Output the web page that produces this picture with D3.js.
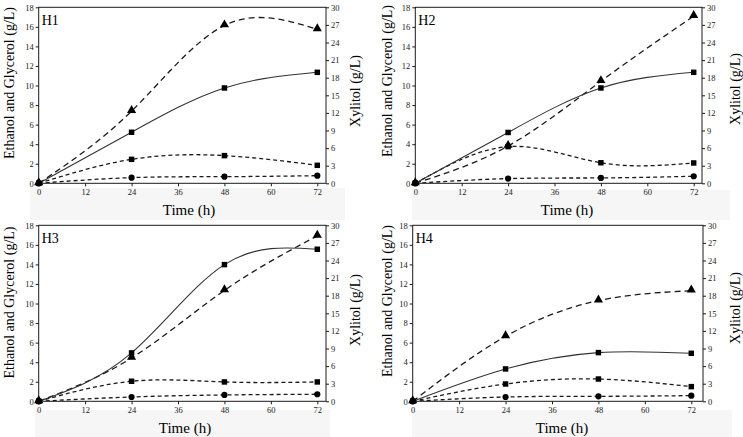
<!DOCTYPE html>
<html><head><meta charset="utf-8">
<script src="https://cdn.jsdelivr.net/npm/d3@7"></script>
</head>
<body style="margin:0"><svg id="chart" width="743" height="437" font-family="Liberation Serif"></svg>
<script>
// ---- data ----
const times = [0, 24, 48, 72];
const panelNames = ["H1", "H2", "H3", "H4"];
const xTicks = [0, 12, 24, 36, 48, 60, 72];
const leftTicks = [0, 2, 4, 6, 8, 10, 12, 14, 16, 18];
const rightTicks = [0, 3, 6, 9, 12, 15, 18, 21, 24, 27, 30];
// Ethanol (g/L, left axis, solid line, squares)
const ethanol = [
  [0, 5.22, 9.75, 11.35],
  [0, 5.2, 9.75, 11.35],
  [0, 4.95, 13.98, 15.55],
  [0, 3.31, 4.98, 4.91]
];
// Glycerol (g/L, left axis, dashed, squares)
const glycerol = [
  [0, 2.45, 2.83, 1.84],
  [0, 3.75, 2.1, 2.08],
  [0, 2.05, 1.98, 1.98],
  [0, 1.77, 2.28, 1.5]
];
// Minor product (g/L, left axis, dashed, circles)
const minor = [
  [0, 0.58, 0.68, 0.78],
  [0, 0.48, 0.55, 0.72],
  [0, 0.44, 0.65, 0.72],
  [0, 0.44, 0.51, 0.58]
];
// Xylitol (g/L, right axis, dashed, triangles)
const xylitol = [
  [0, 12.3, 26.9, 26.25],
  [0, 6.36, 17.4, 28.5],
  [0, 7.39, 18.9, 28.2],
  [0, 11.08, 17.16, 18.86]
];

// ---- layout ----
const layout = [
  {x0: 38.7, x72: 317.3, xR: 326, y0: 7.3, y1: 183.3, lt: [9, 83], rt: [355, 91], tt: [189, 215], band: [30, 188, 315, 32]},
  {x0: 415.3, x72: 693.7, xR: 702, y0: 7.3, y1: 183.3, lt: [387, 81], rt: [735, 89], tt: [567, 215], band: [412, 190, 318, 30]},
  {x0: 38.7, x72: 317.3, xR: 326, y0: 225.3, y1: 401.3, lt: [9, 302.5], rt: [355, 310], tt: [185, 433], band: [35, 410, 295, 27]},
  {x0: 412.7, x72: 691.3, xR: 703, y0: 225.3, y1: 401.3, lt: [387, 301], rt: [735, 308], tt: [562, 433], band: [412, 410, 320, 27]}
];

const FONT = "Liberation Serif";
const svg = d3.select("#chart");
const ink = "#1a1a1a";

panelNames.forEach((name, i) => {
  const L = layout[i];
  const g = svg.append("g");

  g.append("rect").attr("x", L.band[0]).attr("y", L.band[1]).attr("width", L.band[2]).attr("height", L.band[3]).attr("fill", "#f6f6f6");

  const x = d3.scaleLinear().domain([0, 72]).range([L.x0, L.x72]);
  const yL = d3.scaleLinear().domain([0, 18]).range([L.y1, L.y0]);
  const yR = d3.scaleLinear().domain([0, 30]).range([L.y1, L.y0]);

  g.append("rect").attr("x", L.x0).attr("y", L.y0).attr("width", L.xR - L.x0).attr("height", L.y1 - L.y0)
    .attr("fill", "none").attr("stroke", ink).attr("stroke-width", 1);

  const styleAxis = a => {
    a.attr("font-family", FONT).attr("font-size", 8.5);
    a.select(".domain").remove();
    a.selectAll("line").attr("stroke", ink);
    a.selectAll("text").attr("font-family", FONT).attr("font-size", 8.5).attr("fill", "#222");
  };
  g.append("g").attr("transform", `translate(0,${L.y1})`)
    .call(d3.axisBottom(x).tickValues(xTicks).tickSize(3).tickPadding(3)).call(styleAxis);
  g.append("g").attr("transform", `translate(${L.x0},0)`)
    .call(d3.axisLeft(yL).tickValues(leftTicks).tickSize(3).tickPadding(2)).call(styleAxis);
  g.append("g").attr("transform", `translate(${L.xR},0)`)
    .call(d3.axisRight(yR).tickValues(rightTicks).tickSize(3).tickPadding(2)).call(styleAxis);

  const lineL = d3.line().x((d, j) => x(times[j])).y(d => yL(d)).curve(d3.curveNatural);
  const lineR = d3.line().x((d, j) => x(times[j])).y(d => yR(d)).curve(d3.curveNatural);

  const clipId = "clip" + i;
  svg.append("clipPath").attr("id", clipId).append("rect")
    .attr("x", L.x0).attr("y", L.y0 - 3).attr("width", L.xR - L.x0).attr("height", L.y1 - L.y0 + 3);
  const lines = g.append("g").attr("clip-path", `url(#${clipId})`);

  lines.append("path").attr("d", lineL(minor[i])).attr("fill", "none").attr("stroke", ink).attr("stroke-width", 1.3).attr("stroke-dasharray", "4,3");
  lines.append("path").attr("d", lineL(glycerol[i])).attr("fill", "none").attr("stroke", ink).attr("stroke-width", 1.3).attr("stroke-dasharray", "4,3");
  lines.append("path").attr("d", lineR(xylitol[i])).attr("fill", "none").attr("stroke", ink).attr("stroke-width", 1.3).attr("stroke-dasharray", "6,4");
  lines.append("path").attr("d", lineL(ethanol[i])).attr("fill", "none").attr("stroke", "#333").attr("stroke-width", 1.1);

  const sq = d3.symbol().type(d3.symbolSquare).size(30);
  const ci = d3.symbol().type(d3.symbolCircle).size(30);
  const tr = d3.symbol().type(d3.symbolTriangle).size(36);

  [ethanol[i], glycerol[i]].forEach(s => {
    g.append("g").selectAll("path").data(s).join("path")
      .attr("d", sq).attr("fill", "#000")
      .attr("transform", (d, j) => `translate(${x(times[j])},${yL(d)})`);
  });
  g.append("g").selectAll("path").data(minor[i]).join("path")
    .attr("d", ci).attr("fill", "#000")
    .attr("transform", (d, j) => `translate(${x(times[j])},${yL(d)})`);
  g.append("g").selectAll("path").data(xylitol[i]).join("path")
    .attr("d", tr).attr("fill", "#000")
    .attr("transform", (d, j) => `translate(${x(times[j])},${yR(d) - 0.8})`);

  g.append("rect").attr("x", L.x0 + 1.5).attr("y", L.y0 + 4).attr("width", 22).attr("height", 17).attr("fill", "#fff");
  g.append("text").attr("x", L.x0 + 3).attr("y", L.y0 + 18).attr("font-size", 14).attr("font-family", FONT).text(name);

  g.append("text").attr("transform", `translate(${L.lt[0]},${L.lt[1]}) rotate(-90)`)
    .attr("text-anchor", "middle").attr("dy", "0.35em").attr("font-size", 14).attr("font-family", FONT)
    .text("Ethanol and Glycerol (g/L)");
  g.append("text").attr("transform", `translate(${L.rt[0]},${L.rt[1]}) rotate(-90)`)
    .attr("text-anchor", "middle").attr("dy", "0.35em").attr("font-size", 14).attr("font-family", FONT)
    .text("Xylitol (g/L)");
  g.append("text").attr("x", L.tt[0]).attr("y", L.tt[1]).attr("text-anchor", "middle").attr("font-size", 15).attr("font-family", FONT)
    .text("Time (h)");
});
</script>
</body></html>
